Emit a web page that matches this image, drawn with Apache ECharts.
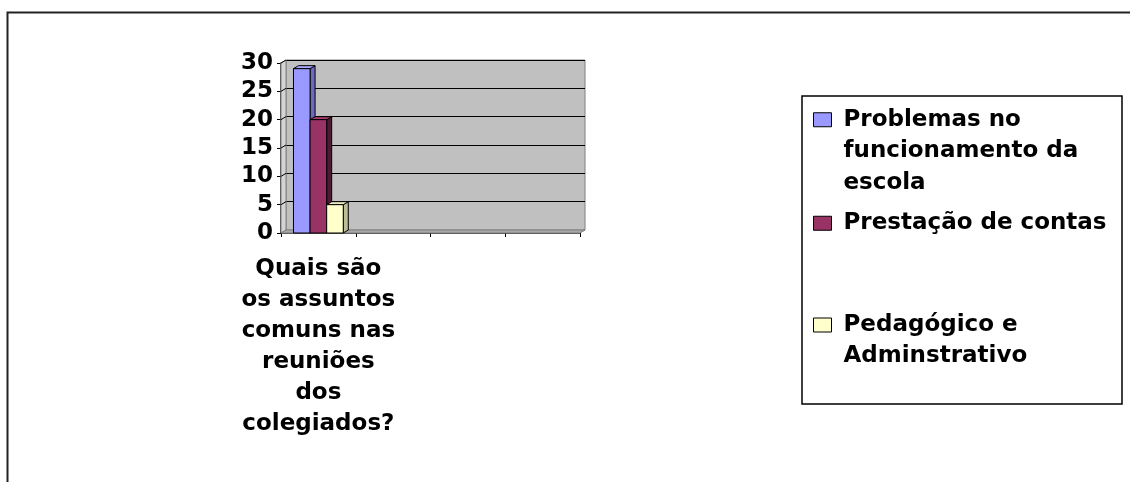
<!DOCTYPE html>
<html><head><meta charset="utf-8">
<script src="https://cdn.jsdelivr.net/npm/echarts@6/dist/echarts.min.js"></script>
<style>html,body{margin:0;padding:0;background:#fff}#c{width:1130px;height:482px}</style>
</head><body><div id="c"></div>
<script>
const categories = ['Quais são\nos assuntos\ncomuns nas\nreuniões\ndos\ncolegiados?', '', '', ''];
const seriesNames = ['Problemas no funcionamento da escola', 'Prestação de contas', 'Pedagógico e Adminstrativo'];
const legendLabels = ['Problemas no\nfuncionamento da\nescola', 'Prestação de contas', 'Pedagógico e\nAdminstrativo'];
const valuesProblemas = [29];
const valuesPrestacao = [20];
const valuesPedagogico = [5];
const yMin = 0, yMax = 30, yStep = 5;

const FONT = 'DejaVu Sans';
const FS = 23;
const DX = 5, DY = -3;
const faceColors = [
  {front: '#9999ff', top: '#a8a8ff', side: '#6b6bbf'},
  {front: '#993366', top: '#a33d70', side: '#4d1a33'},
  {front: '#ffffcc', top: '#ecebc0', side: '#bdbd98'}
];

function barRenderer(k) {
  return function (params, api) {
    const cat = api.value(0), v = api.value(1);
    const top = api.coord([cat, v]);
    const base = api.coord([cat, 0]);
    const band = api.size([1, 0])[0];
    const w = band * 0.222;
    const x0 = top[0] - 1.5 * w + k * w;
    const y1 = top[1], y0 = base[1];
    const c = faceColors[k];
    const st = {stroke: '#000', lineWidth: 1};
    return {type: 'group', children: [
      {type: 'polygon', shape: {points: [[x0 + w, y1], [x0 + w + DX, y1 + DY], [x0 + w + DX, y0 + DY], [x0 + w, y0]]}, style: Object.assign({fill: c.side}, st)},
      {type: 'polygon', shape: {points: [[x0, y1], [x0 + DX, y1 + DY], [x0 + w + DX, y1 + DY], [x0 + w, y1]]}, style: Object.assign({fill: c.top}, st)},
      {type: 'rect', shape: {x: x0, y: y1, width: w, height: y0 - y1}, style: Object.assign({fill: c.front}, st)}
    ]};
  };
}

function wallRenderer(params, api) {
  const cs = params.coordSys;
  const x = cs.x, yb = cs.y + cs.height, xr = cs.x + cs.width;
  const ch = [];
  ch.push({type: 'polygon', shape: {points: [[x, cs.y], [x + DX, cs.y + DY], [x + DX, yb + DY], [x, yb]]}, style: {fill: '#d4d4d4', stroke: '#808080', lineWidth: 1}});
  ch.push({type: 'polygon', shape: {points: [[x, yb], [x + DX, yb + DY], [xr + DX, yb + DY], [xr, yb]]}, style: {fill: '#a8a8a8', stroke: '#808080', lineWidth: 1}});
  for (let v = yMin + yStep; v <= yMax; v += yStep) {
    const y = api.coord([0, v])[1];
    ch.push({type: 'line', shape: {x1: x, y1: y, x2: x + DX, y2: y + DY}, style: {stroke: '#000', lineWidth: 1}});
  }
  return {type: 'group', children: ch};
}

const allValues = [valuesProblemas, valuesPrestacao, valuesPedagogico];
const barSeries = seriesNames.map((n, k) => ({
  name: n, type: 'custom', xAxisIndex: 0, yAxisIndex: 0, z: 5,
  itemStyle: {color: faceColors[k].front},
  renderItem: barRenderer(k),
  encode: {x: 0, y: 1},
  data: allValues[k].map((v, i) => [i, v])
}));

const legendTops = [41, 207.5, 277.75];
const legendPrefix = ['\n\n', '', '\n'];
const legends = seriesNames.map((n, k) => ({
  data: [n], left: 813, top: legendTops[k], orient: 'vertical', padding: 0,
  itemWidth: 18, itemHeight: 14, icon: 'rect', selectedMode: false,
  itemStyle: {borderColor: '#000', borderWidth: 1},
  formatter: () => legendPrefix[k] + legendLabels[k],
  textStyle: {fontFamily: FONT, fontWeight: 'bold', fontSize: FS, lineHeight: 31.5, color: '#000', padding: [0, 0, 0, 7]}
}));

const option = {
  animation: false,
  backgroundColor: '#fff',
  grid: [
    {left: 281, top: 63, width: 299, height: 170, show: false},
    {left: 286, top: 60, width: 299, height: 170, show: true, backgroundColor: '#c0c0c0', borderColor: '#808080', borderWidth: 1}
  ],
  xAxis: [
    {type: 'category', gridIndex: 0, data: categories, boundaryGap: true,
     axisLine: {lineStyle: {color: '#000', width: 1.5}},
     axisTick: {show: true, length: 4, lineStyle: {color: '#000'}},
     axisLabel: {interval: 0, margin: 21, fontFamily: FONT, fontWeight: 'bold', fontSize: FS, lineHeight: 31, color: '#000', align: 'center'}},
    {type: 'category', gridIndex: 1, data: categories, show: false}
  ],
  yAxis: [
    {type: 'value', gridIndex: 0, min: yMin, max: yMax, interval: yStep,
     axisLine: {show: true, lineStyle: {color: '#000', width: 1.5}},
     axisTick: {show: true, length: 4, lineStyle: {color: '#000'}},
     splitLine: {show: false},
     axisLabel: {margin: 8, fontFamily: FONT, fontWeight: 'bold', fontSize: FS, color: '#000'}},
    {type: 'value', gridIndex: 1, min: yMin, max: yMax, interval: yStep,
     axisLine: {show: false}, axisTick: {show: false}, axisLabel: {show: false},
     splitLine: {show: true, lineStyle: {color: '#000', width: 1}}}
  ],
  legend: legends,
  graphic: [
    {type: 'polyline', shape: {points: [[7.5, 482], [7.5, 12.5], [1130, 12.5]]}, style: {stroke: '#222', lineWidth: 2, fill: null}, silent: true},
    {type: 'rect', shape: {x: 802, y: 96, width: 320, height: 308}, style: {stroke: '#000', lineWidth: 1.5, fill: null}, silent: true, z: 0}
  ],
  series: [
    {name: '_wall', type: 'custom', xAxisIndex: 0, yAxisIndex: 0, z: 1, silent: true,
     renderItem: wallRenderer, encode: {x: 0, y: 1}, data: [[0, 0]]}
  ].concat(barSeries)
};

const chart = echarts.init(document.getElementById('c'), null, {renderer: 'canvas'});
chart.setOption(option);
</script>
</body></html>
